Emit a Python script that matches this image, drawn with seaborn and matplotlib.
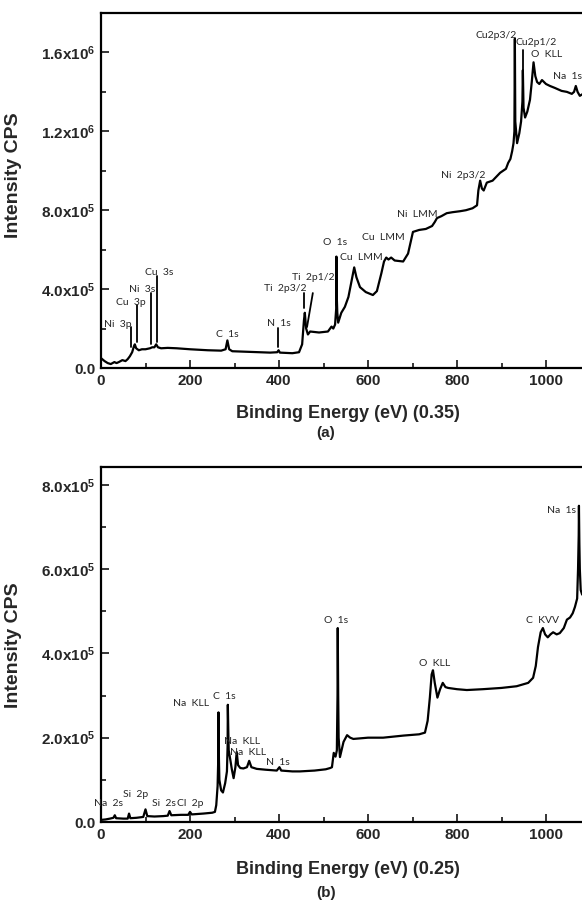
import numpy as np
import pandas as pd
import matplotlib
matplotlib.use('Agg')
import matplotlib.pyplot as plt
from matplotlib.ticker import FuncFormatter, MultipleLocator
import seaborn as sns

# ---- spectrum (a): survey, step 0.35 eV (counts in 1e5 CPS)
energy_a = [0, 8, 15, 22, 30, 35, 40, 48, 55, 60, 65, 70, 74, 76, 79, 85, 92, 100,
            110, 115, 120, 124, 128, 135, 150, 170, 200, 240, 270, 280, 284, 288,
            295, 330, 380, 396, 399, 402, 430, 445, 452, 456, 458, 461, 465, 470,
            490, 510, 518, 522, 526, 528.5, 529, 530, 531, 533, 540, 548, 556, 563,
            569, 574, 582, 595, 611, 620, 630, 636, 641, 646, 652, 660, 679, 690,
            701, 715, 730, 744, 750, 755, 765, 777, 790, 807, 820, 835, 845, 848,
            852, 856, 860, 867, 880, 897, 910, 915, 920, 924, 927, 929, 930, 931,
            935, 940, 944, 947, 948, 949.5, 953, 958, 964, 968, 972, 976, 980, 985,
            991, 1000, 1009, 1020, 1035, 1047, 1058, 1063, 1067, 1071, 1076, 1083,
            1090]
counts_a = [0.5, 0.35, 0.25, 0.2, 0.3, 0.25, 0.3, 0.4, 0.35, 0.45, 0.6, 0.8, 1.1, 1.2,
            1.0, 0.9, 0.95, 0.95, 1.0, 1.05, 1.05, 1.2, 1.05, 1.0, 1.02, 1.0, 0.95,
            0.9, 0.88, 0.95, 1.4, 0.95, 0.85, 0.82, 0.78, 0.8, 0.9, 0.78, 0.75, 0.8,
            1.2, 2.4, 2.8, 2.0, 1.7, 1.85, 1.8, 1.85, 2.1, 2.0, 2.2, 3.0, 5.65, 3.5,
            2.8, 2.3, 2.8, 3.1, 3.6, 4.4, 5.1, 4.6, 4.1, 3.85, 3.7, 3.9, 4.8, 5.4,
            5.6, 5.5, 5.6, 5.45, 5.4, 5.8, 6.9, 7.0, 7.05, 7.2, 7.4, 7.6, 7.7, 7.85,
            7.9, 7.95, 8.0, 8.1, 8.25, 9.0, 9.5, 9.1, 9.0, 9.4, 9.5, 9.9, 10.1, 10.4,
            10.6, 11.0, 11.4, 12.0, 16.7, 12.5, 11.4, 11.9, 12.5, 13.5, 15.1, 13.2,
            12.7, 13.0, 13.6, 14.5, 15.5, 14.8, 14.5, 14.4, 14.6, 14.4, 14.3, 14.2,
            14.05, 14.0, 13.9, 14.0, 14.3, 14.0, 13.8, 13.9, 13.9]

# ---- spectrum (b): survey, step 0.25 eV (counts in 1e5 CPS)
energy_b = [0, 10, 20, 28, 31, 34, 50, 60, 63, 66, 80, 95, 100, 104, 120, 140, 150,
            154, 158, 180, 196, 200, 204, 230, 250, 256, 259, 262, 263.5, 264, 265,
            266, 270, 274, 279, 283, 284.5, 285, 286, 287, 291, 294, 298, 302, 305,
            308, 313, 320, 328, 333, 338, 350, 370, 395, 401, 405, 430, 447, 480,
            505, 515, 519, 523, 527, 530, 531.5, 532, 533, 534, 537, 545, 553, 560,
            567, 600, 634, 680, 715, 728, 734, 739, 743, 746, 750, 756, 762, 768,
            774, 780, 800, 822, 858, 900, 934, 960, 971, 977, 982, 988, 993, 998,
            1004, 1010, 1016, 1024, 1031, 1040, 1047, 1054, 1060, 1065, 1070, 1072,
            1073.5, 1074, 1075, 1076, 1078, 1081, 1090]
counts_b = [0.05, 0.06, 0.08, 0.1, 0.16, 0.09, 0.08, 0.08, 0.2, 0.09, 0.1, 0.12,
            0.3, 0.14, 0.13, 0.14, 0.15, 0.26, 0.16, 0.17, 0.17, 0.24, 0.18, 0.2,
            0.22, 0.24, 0.4, 0.85, 1.5, 2.6, 1.5, 1.0, 0.75, 0.7, 0.92, 1.2, 1.8,
            2.78, 2.2, 1.7, 1.45, 1.25, 1.04, 1.3, 1.66, 1.35, 1.28, 1.27, 1.3, 1.45,
            1.3, 1.26, 1.24, 1.22, 1.3, 1.22, 1.2, 1.2, 1.22, 1.25, 1.28, 1.3, 1.64,
            1.55, 1.7, 3.0, 4.6, 3.0, 2.0, 1.54, 1.9, 2.06, 2.0, 1.97, 2.0, 2.0,
            2.05, 2.08, 2.12, 2.4, 2.95, 3.5, 3.6, 3.3, 2.95, 3.15, 3.3, 3.2, 3.18,
            3.15, 3.13, 3.15, 3.18, 3.22, 3.3, 3.42, 3.7, 4.15, 4.5, 4.6, 4.45, 4.38,
            4.45, 4.5, 4.45, 4.48, 4.6, 4.8, 4.85, 4.95, 5.1, 5.3, 6.0, 6.8, 7.5,
            6.6, 6.0, 5.5, 5.4, 5.3]

# peak labels: text, energy, height (1e5)
labels_a = [("Ni  3p", 38, 2.23), ("Cu  3p", 67, 3.34), ("Ni  3s", 93, 4.0),
            ("Cu  3s", 130, 4.86), ("C  1s", 283, 1.72), ("N  1s", 400, 2.28),
            ("Ti  2p3/2", 413, 4.05), ("Ti  2p1/2", 476, 4.6), ("O  1s", 527, 6.38),
            ("Cu  LMM", 584, 5.62), ("Cu  LMM", 635, 6.63), ("Ni  LMM", 711, 7.8),
            ("Ni  2p3/2", 815, 9.77), ("Cu2p3/2", 889, 16.86), ("Cu2p1/2", 978, 16.5),
            ("O  KLL", 1002, 15.9), ("Na  1s", 1048, 14.78)]
# marker lines: (x0, y0, x1, y1)
marks_a = [(67, 2.08, 67, 1.06), (81, 3.19, 81, 1.32), (112, 3.8, 112, 1.22),
           (126, 4.66, 126, 1.32), (398, 2.03, 398, 1.06), (456, 3.8, 456, 3.04),
           (476, 3.8, 463, 2.08), (948, 16.1, 948, 14.9)]

labels_b = [("Na  2s", 17, 0.45), ("Si  2p", 78, 0.66), ("Si  2s", 142, 0.43),
            ("Cl  2p", 201, 0.45), ("Na  KLL", 202, 2.8), ("C  1s", 276, 2.97),
            ("Na  KLL", 318, 1.92), ("Na  KLL", 331, 1.66), ("N  1s", 397, 1.4),
            ("O  1s", 528, 4.79), ("O  KLL", 749, 3.75), ("C  KVV", 992, 4.79),
            ("Na  1s", 1034, 7.38)]

sns.set_style("ticks")
plt.rcParams['font.family'] = ['Liberation Sans', 'DejaVu Sans']
plt.rcParams['mathtext.fontset'] = 'custom'
plt.rcParams['mathtext.rm'] = 'Liberation Sans:bold'
plt.rcParams['mathtext.it'] = 'Liberation Sans:bold'
plt.rcParams['mathtext.bf'] = 'Liberation Sans:bold'


def sci_fmt(v, pos):
    if v == 0:
        return "0.0"
    exp = int(np.floor(np.log10(abs(v))))
    return "%.1fx10$^{%d}$" % (v / 10 ** exp, exp)


fig = plt.figure(figsize=(5.82, 9.06), dpi=100)
W, H = 582.0, 906.0
ax_a = fig.add_axes([101 / W, 1 - 368 / H, 489.5 / W, 355 / H])
ax_b = fig.add_axes([101 / W, 1 - 822 / H, 489.5 / W, 355 / H])

panels = [
    (ax_a, energy_a, counts_a, labels_a, marks_a, (0, 1.8e6), 4e5, "(0.35)", "(a)", 413, 433, 175),
    (ax_b, energy_b, counts_b, labels_b, [], (0, 8.42e5), 2e5, "(0.25)", "(b)", 870, 893, 645),
]

for ax, en, ct, labs, marks, ylim, ystep, step, tag, ylab_px, tag_px, ylabel_px in panels:
    df = pd.DataFrame({"energy": en, "cps": np.array(ct) * 1e5})
    sns.lineplot(data=df, x="energy", y="cps", ax=ax, color="black", lw=1.6,
                 estimator=None, sort=False)
    ax.set_xlim(0, 1100)
    ax.set_ylim(*ylim)
    ax.xaxis.set_major_locator(MultipleLocator(200))
    ax.xaxis.set_minor_locator(MultipleLocator(100))
    ax.yaxis.set_major_locator(MultipleLocator(ystep))
    ax.yaxis.set_minor_locator(MultipleLocator(ystep / 2))
    ax.yaxis.set_major_formatter(FuncFormatter(sci_fmt))
    ax.tick_params(which='both', direction='in', width=1.3, top=False, right=False)
    ax.tick_params(which='major', length=6, labelsize=11, pad=4)
    ax.tick_params(which='minor', length=3.5)
    for lbl in ax.get_xticklabels() + ax.get_yticklabels():
        lbl.set_fontweight('bold')
    for side in ['left', 'bottom', 'top']:
        ax.spines[side].set_linewidth(1.6)
        ax.spines[side].set_color('black')
    ax.spines['right'].set_visible(False)
    ax.set_xlabel("")
    ax.set_ylabel("Intensity CPS", fontsize=14, fontweight='bold')
    top_px = 13 if ax is ax_a else 467
    ax.yaxis.set_label_coords((22 - 101) / 489.5, (top_px + 355 - ylabel_px) / 355)

    for text, x, y in labs:
        ax.text(x, y * 1e5, text, ha='center', va='center', fontsize=7.5,
                family=['Lato', 'DejaVu Sans'])
    for x0, y0, x1, y1 in marks:
        ax.plot([x0, x1], [y0 * 1e5, y1 * 1e5], color='black', lw=1.3)

    fig.text(348 / W, 1 - ylab_px / H, "Binding Energy (eV) " + step,
             ha='center', va='center', fontsize=13, fontweight='bold')
    fig.text(326 / W, 1 - tag_px / H, tag, ha='center', va='center',
             fontsize=11, fontweight='bold')

fig.savefig("out.png", dpi=100)
